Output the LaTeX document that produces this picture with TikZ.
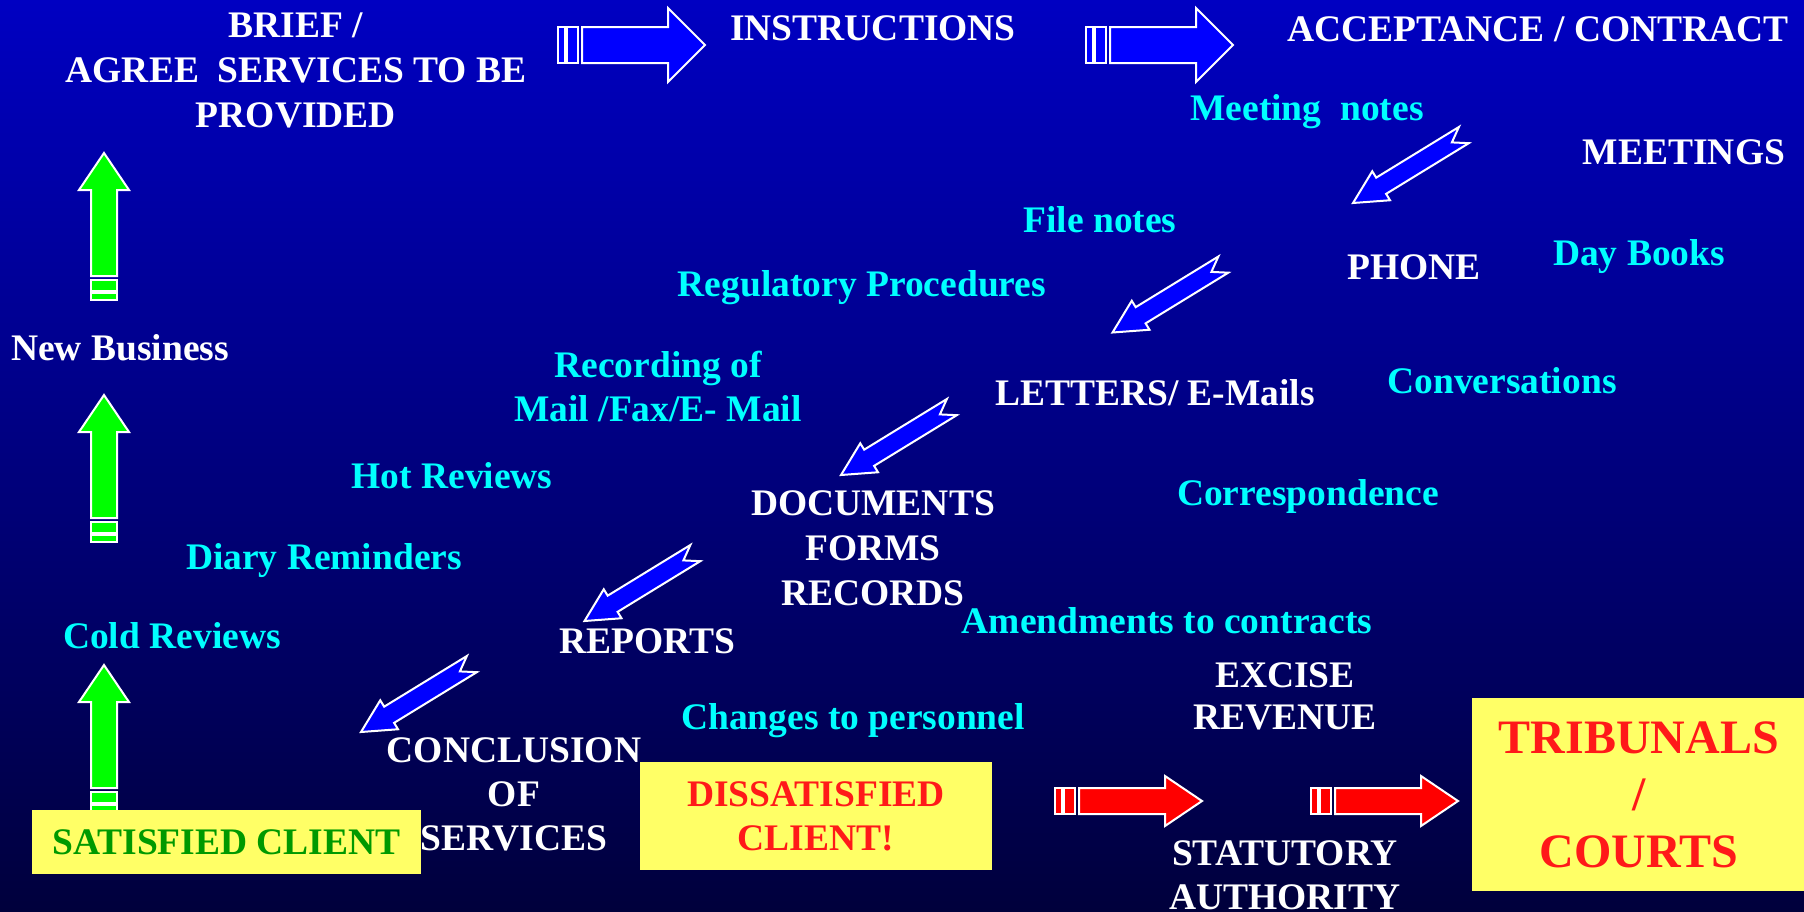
\documentclass[tikz,border=0pt]{standalone}
\usepackage{fontspec}
\setmainfont{Liberation Serif}
\definecolor{bgtop}{RGB}{0,0,194}
\definecolor{bgbot}{RGB}{0,0,60}
\definecolor{arrowblue}{RGB}{0,0,255}
\definecolor{arrowgreen}{RGB}{0,255,0}
\definecolor{arrowred}{RGB}{255,0,0}
\definecolor{cyantext}{RGB}{0,255,255}
\definecolor{boxyellow}{RGB}{255,255,102}
\definecolor{satgreen}{RGB}{0,153,0}
\definecolor{redtext}{RGB}{255,25,25}
\tikzset{
  lbl/.style={font=\bfseries\fontsize{37.5}{45}\selectfont, align=center, anchor=base, inner sep=0pt},
  wht/.style={lbl, text=white},
  cyn/.style={lbl, text=cyantext},
  ybox/.style={fill=boxyellow, inner sep=0pt, align=center},
  arrowline/.style={draw=white, line width=2pt, line join=miter},
}
\newcommand\blockArrow[6]{%
  \begin{scope}[shift={(#1,#2)}, rotate=#3]
    \filldraw[arrowline, fill=#6] (0,0) -- (-37,#5) -- (-37,#4) -- (-123,#4) -- (-123,-#4) -- (-37,-#4) -- (-37,-#5) -- cycle;
    \filldraw[arrowline, fill=#6] (-127,#4) rectangle (-138,-#4);
    \filldraw[arrowline, fill=#6] (-140,#4) rectangle (-147,-#4);
  \end{scope}}
\newcommand\diagArrow[2]{%
  \begin{scope}[shift={(#1,#2)}, rotate=211.5]
    \filldraw[arrowline, fill=arrowblue] (0,0) -- (-33,17) -- (-33,9.5) -- (-130,9.5) -- (-116,0) -- (-130,-9.5) -- (-33,-9.5) -- (-33,-17) -- cycle;
  \end{scope}}
\begin{document}
\begin{tikzpicture}[x=1pt,y=-1pt]
\useasboundingbox (0,0) rectangle (1804,911);
\shade[top color=bgtop, bottom color=bgbot] (0,0) rectangle (1804,911);

% block arrows
\blockArrow{705}{45}{0}{18}{37}{arrowblue}
\blockArrow{1233}{45}{0}{18}{37}{arrowblue}
\blockArrow{1202}{801}{0}{13}{25}{arrowred}
\blockArrow{1458}{801}{0}{13}{25}{arrowred}
\blockArrow{104}{153}{90}{13}{25}{arrowgreen}
\blockArrow{104}{395}{90}{13}{25}{arrowgreen}
\blockArrow{104}{665}{90}{13}{25}{arrowgreen}

% diagonal arrows
\diagArrow{1353}{203}
\diagArrow{1112.5}{332.5}
\diagArrow{841}{475}
\diagArrow{584.5}{621}
\diagArrow{361}{732}

% labels (multi-line nodes are placed at the baseline of their last line)
\node[wht] (brief) at (296,127) {BRIEF /\\AGREE~~SERVICES TO BE\\PROVIDED};
\node[wht] (instr) at (873,40) {INSTRUCTIONS};
\node[wht] (accept) at (1538,41) {ACCEPTANCE / CONTRACT};
\node[cyn] (mnotes) at (1307,120) {Meeting~~notes};
\node[wht] (meet) at (1684,164) {MEETINGS};
\node[cyn] (fnotes) at (1100,232) {File notes};
\node[wht] (phone) at (1414,279) {PHONE};
\node[cyn] (daybk) at (1639,265) {Day Books};
\node[cyn] (regul) at (862,296) {Regulatory Procedures};
\node[wht] (newbiz) at (120,360) {New Business};
\node[cyn] (recmail) at (658,421) {Recording of\\[-1pt]Mail /Fax/E- Mail};
\node[wht] (letters) at (1155,405) {LETTERS/ E-Mails};
\node[cyn] (conv) at (1502,393) {Conversations};
\node[cyn] (hotrev) at (452,488) {Hot Reviews};
\node[wht] (docs) at (873,605) {DOCUMENTS\\FORMS\\RECORDS};
\node[cyn] (corr) at (1308,505) {Correspondence};
\node[cyn] (diary) at (324,569) {Diary Reminders};
\node[cyn] (amend) at (1167,633) {Amendments to contracts};
\node[cyn] (coldrev) at (172,648) {Cold Reviews};
\node[wht] (reports) at (647,653) {REPORTS};
\node[wht] (excise) at (1285,729) {EXCISE\\[-3pt]REVENUE};
\node[cyn] (chpers) at (853,729) {Changes to personnel};
\node[wht] (concl) at (514,850) {CONCLUSION\\[-1pt]OF\\[-1pt]SERVICES};
\node[wht] (stat) at (1285,909) {STATUTORY\\[-1pt]AUTHORITY};

% boxes
\node[ybox, minimum width=389, minimum height=64, text=satgreen, font=\bfseries\fontsize{37.5}{45}\selectfont] (sat) at (226.5,842) {SATISFIED CLIENT};
\node[ybox, minimum width=352, minimum height=108, text=redtext, font=\bfseries\fontsize{37.5}{44}\selectfont] (dissat) at (816,816) {DISSATISFIED\\CLIENT!};
\node[ybox, minimum width=334, minimum height=193, text=redtext, font=\bfseries\fontsize{48}{57}\selectfont] (trib) at (1639,794.5) {TRIBUNALS\\/\\COURTS};
\end{tikzpicture}
\end{document}
